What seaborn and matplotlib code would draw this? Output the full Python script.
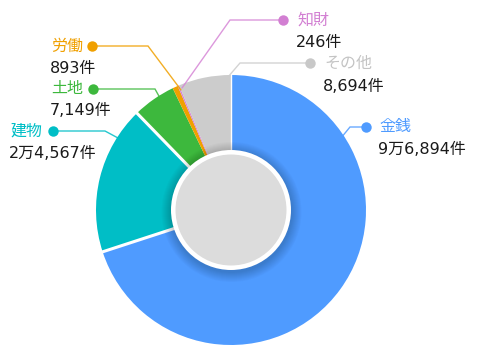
import matplotlib
matplotlib.use("Agg")
import matplotlib.pyplot as plt
from matplotlib.patches import Circle
import numpy as np
import seaborn as sns

# ---- data ----
categories = ['金銭', '建物', '土地', '労働', '知財', 'その他']
counts = [96894, 24567, 7149, 893, 246, 8694]
value_labels = ['9万6,894件', '2万4,567件', '7,149件', '893件', '246件', '8,694件']
colors = ['#4f9bff', '#00bec6', '#3db83d', '#f0a000', '#d686d6', '#cccccc']
text_colors = ['#4f9bff', '#00bec6', '#3db83d', '#f0a000', '#d27fd2', '#c4c4c4']

# ---- layout (pixel coords, y from top) ----
W, H = 480, 363
CX, CY, R = 231, 210, 135
dots = [(366, 127), (53, 131), (93, 89), (92, 46), (283, 20), (310, 63)]
elbows = [(350, 127), (105, 131), (155, 89), (148, 46), (230, 20), (240, 63)]
anchors = [(341, 138), (118, 138), (160, 98), (181, 90), (182, 88), (228, 77)]
text_x = [379, 10, 51, 51, 297, 324]
text_y = [127, 131, 89, 46, 20, 63]
val_y = [149, 153, 110, 68, 43, 86]

sns.set_theme(style="white")
plt.rcParams['font.family'] = ['Noto Sans CJK JP', 'DejaVu Sans']

fig = plt.figure(figsize=(W / 100, H / 100), dpi=100)
ax = fig.add_axes([0, 0, 1, 1])


def Y(y):
    return H - y


wedges, _ = ax.pie(counts, colors=colors, startangle=90, counterclock=False,
                   center=(CX, Y(CY)), radius=R,
                   wedgeprops=dict(linewidth=0, antialiased=True))

# white separators at a few slice boundaries
total = sum(counts)
cum = np.cumsum(counts) / total
for i, lw in [(0, 2.2), (1, 2.2), (5, 1.0)]:
    ang = np.deg2rad(90 - 360 * cum[i])
    ax.plot([CX, CX + R * 1.01 * np.cos(ang)], [Y(CY), Y(CY) + R * 1.01 * np.sin(ang)],
            color='white', lw=lw, solid_capstyle='butt', zorder=3)

# soft shadow around center disk
for k in range(10, 0, -1):
    ax.add_patch(Circle((CX + 0.5, Y(CY) - 2), 60 + k, color='black', alpha=0.018,
                        lw=0, zorder=4))
ax.add_patch(Circle((CX, Y(CY)), 60, color='white', lw=0, zorder=5))
ax.add_patch(Circle((CX, Y(CY)), 55.5, color='#dcdcdc', lw=0, zorder=6))

# leader lines, dots and labels
for i, cat in enumerate(categories):
    (dx, dy), (ex, ey), (axp, ayp) = dots[i], elbows[i], anchors[i]
    ax.plot([dx, ex, axp], [Y(dy), Y(ey), Y(ayp)], color=colors[i], lw=1.0,
            alpha=0.85, zorder=7, solid_joinstyle='miter')
    ax.plot([dx], [Y(dy)], 'o', color=text_colors[i] if i != 5 else '#c8c8c8',
            markersize=7.5, markeredgewidth=0, zorder=8)
    ax.text(text_x[i], Y(text_y[i]), cat, color=text_colors[i], fontsize=11.5,
            ha='left', va='center')
    ax.text(text_x[i] - 1, Y(val_y[i]), value_labels[i], color='#1a1a1a',
            fontsize=11.5, ha='left', va='center',
            family=['DejaVu Sans', 'Noto Sans CJK JP'])

ax.set_xlim(0, W)
ax.set_ylim(0, H)
ax.set_aspect('equal')
ax.axis('off')
fig.savefig('out.png', dpi=100, facecolor='white')
